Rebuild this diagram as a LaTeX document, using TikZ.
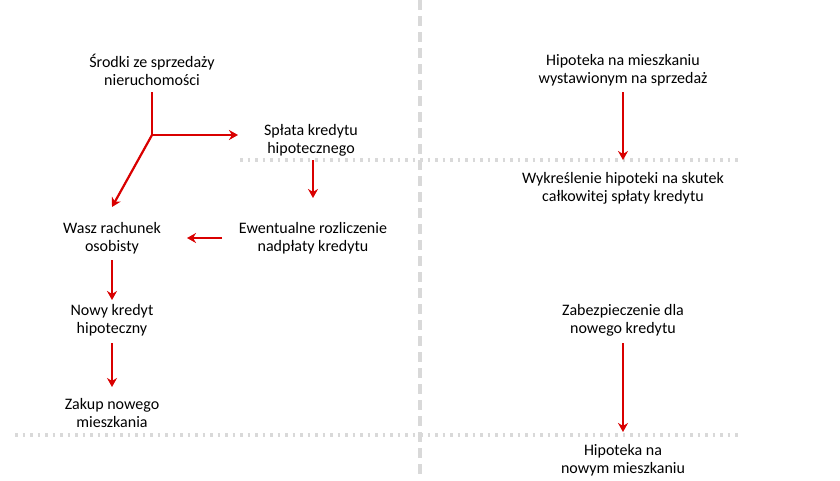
\documentclass[tikz,border=0pt]{standalone}
\usepackage{fontspec}
\setmainfont{Carlito}
\usetikzlibrary{arrows.meta}
\begin{document}
\begin{tikzpicture}[x=1pt, y=-1pt, every node/.style={font=\fontsize{16}{18}\selectfont, align=center, inner sep=1pt},
    flow/.style={line width=2.2pt, red!85!black, -{Stealth[length=9pt,width=10pt]}},
    sep/.style={line width=4pt, gray!30, line cap=butt}]
    \useasboundingbox (0,0) rectangle (840,480);

    % Linie podziału
    \draw[sep, dash pattern=on 10pt off 6pt] (420,0) -- (420,480);
    \draw[sep, line width=3.5pt, dash pattern=on 2.5pt off 5pt] (240,160) -- (740,160);
    \draw[sep, line width=3.5pt, dash pattern=on 2.5pt off 5pt] (15,435) -- (740,435);

    % Lewa strona
    \node (srodki) at (152,70) {Środki ze sprzedaży\\nieruchomości};
    \node (splata) at (311,140) {Spłata kredytu\\hipotecznego};
    \node (rozl) at (313,238) {Ewentualne rozliczenie\\nadpłaty kredytu};
    \node (rach) at (112,238) {Wasz rachunek\\osobisty};
    \node (nowy) at (112,320) {Nowy kredyt\\hipoteczny};
    \node (zakup) at (112,413) {Zakup nowego\\mieszkania};

    % Prawa strona
    \node (hip) at (623,70) {Hipoteka na mieszkaniu\\wystawionym na sprzedaż};
    \node (wykr) at (623,188) {Wykreślenie hipoteki na skutek\\całkowitej spłaty kredytu};
    \node (zabez) at (623,320) {Zabezpieczenie dla\\nowego kredytu};
    \node (hipnowa) at (623,460) {Hipoteka na\\nowym mieszkaniu};

    % Strzałki
    \coordinate (rozw) at (152,135);
    \draw[line width=2.2pt, red!85!black] (152,92) -- (rozw);
    \draw[flow] (rozw) -- (238,135);
    \draw[flow] (rozw) -- (112,207);
    \draw[flow] (313,160) -- (313,198);
    \draw[flow] (222,238) -- (187,238);
    \draw[flow] (112,260) -- (112,300);
    \draw[flow] (112,343) -- (112,387);
    \draw[flow] (623,92) -- (623,160);
    \draw[flow] (623,343) -- (623,432);
\end{tikzpicture}
\end{document}
